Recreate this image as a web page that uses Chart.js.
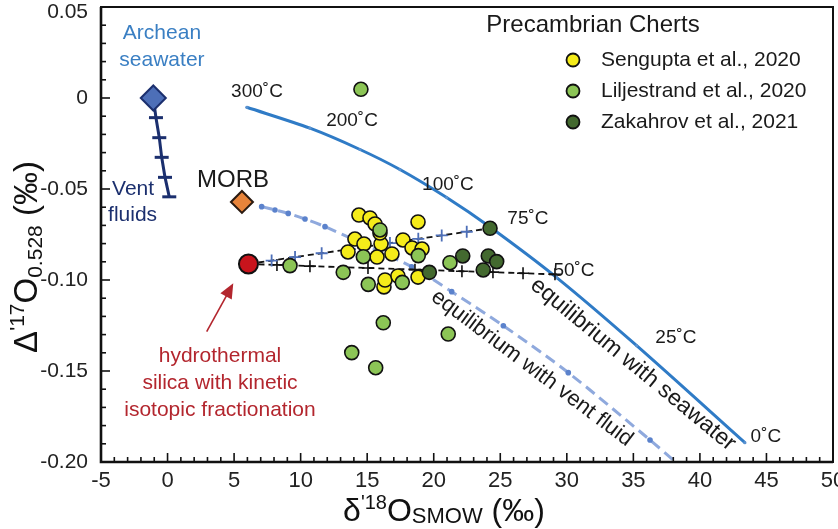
<!DOCTYPE html>
<html><head><meta charset="utf-8">
<script src="https://cdn.jsdelivr.net/npm/chart.js@4.4.1/dist/chart.umd.min.js"></script>
<style>html,body{margin:0;padding:0;background:#fff;overflow:hidden}#wrap{width:838px;height:529px;overflow:hidden;position:relative}canvas{display:block}</style>
</head><body><div id="wrap"><canvas id="c" width="838" height="529"></canvas></div>
<script>
// ---------- data ----------
const xTicks = [-5, 0, 5, 10, 15, 20, 25, 30, 35, 40, 45, 50];
const yTicks = [-0.20, -0.15, -0.10, -0.05, 0, 0.05];
const yTickLabels = ['-0.20', '-0.15', '-0.10', '-0.05', '0', '0.05'];

const senguptaX = [16.26, 14.38, 15.21, 15.59, 18.82, 14.08, 14.76, 16.04, 17.69, 18.37, 19.12, 13.56, 15.74, 16.86, 16.34, 17.31, 18.82, 15.96];
const senguptaY = [-0.1038, -0.0643, -0.0659, -0.0692, -0.0681, -0.0775, -0.0802, -0.0802, -0.0780, -0.0824, -0.0830, -0.0846, -0.0874, -0.0857, -0.1000, -0.0978, -0.0984, -0.0742];

const liljestrandX = [14.53, 9.20, 13.20, 14.71, 15.96, 18.84, 21.22, 15.08, 17.64, 16.21, 21.09, 13.84, 15.64];
const liljestrandY = [0.0048, -0.0921, -0.0958, -0.0872, -0.0725, -0.0866, -0.0905, -0.1024, -0.1013, -0.1235, -0.1297, -0.1399, -0.1482];

const zakharovX = [24.23, 22.18, 24.10, 24.73, 23.72, 19.67];
const zakharovY = [-0.0716, -0.0868, -0.0868, -0.0899, -0.0945, -0.0958];

// equilibrium with seawater (300 °C -> 0 °C)
const seawaterEqX = [5.95, 10.70, 14.46, 17.46, 20.97, 24.15, 29.24, 35.25, 43.38];
const seawaterEqY = [-0.0051, -0.0166, -0.0283, -0.0393, -0.0547, -0.0705, -0.0987, -0.1361, -0.1894];

// equilibrium with vent fluid
const ventEqX = [7.07, 8.07, 9.07, 10.33, 11.83, 18.34, 21.35, 25.23, 30.11, 36.25, 38.13];
const ventEqY = [-0.0597, -0.0615, -0.0634, -0.0665, -0.0707, -0.0927, -0.1064, -0.1251, -0.1509, -0.1879, -0.1998];

// mixing lines from kinetic hydrothermal silica
const mixUpperX = [6.08, 7.82, 9.58, 11.58, 13.71, 16.71, 18.84, 20.60, 22.48, 24.23];
const mixUpperY = [-0.0912, -0.0893, -0.0874, -0.0853, -0.0830, -0.0797, -0.0774, -0.0755, -0.0735, -0.0716];
const mixLowerX = [6.08, 8.22, 10.70, 15.06, 18.59, 22.12, 24.45, 26.71, 29.11];
const mixLowerY = [-0.0912, -0.0917, -0.0924, -0.0934, -0.0943, -0.0952, -0.0957, -0.0963, -0.0969];

// Archean seawater -> vent fluids
const ventFluidX = [-1.07, -0.87, -0.62, -0.44, -0.19, 0.13];
const ventFluidY = [0, -0.0108, -0.0218, -0.0326, -0.0436, -0.0543];

const seawaterPt = [-1.07, 0];
const morbPt = [5.59, -0.0571];
const kineticPt = [6.08, -0.0912];

// annotation texts (data coords)
const tempLabels = ['300˚C', '200˚C', '100˚C', '75˚C', '50˚C', '25˚C', '0˚C'];
const tempLabelX = [6.72, 13.86, 21.07, 27.08, 30.54, 38.20, 44.96];
const tempLabelY = [0.0033, -0.0126, -0.0478, -0.0665, -0.0951, -0.1319, -0.1863];

const legendTitle = 'Precambrian Cherts';
const legendOrder = ['Sengupta et al., 2020', 'Liljestrand et al., 2020', 'Zakahrov et al., 2021'];

// ---------- helpers ----------
const FONT = '"Liberation Sans", Arial, Helvetica, sans-serif';
const zip = (xs, ys) => xs.map((x, i) => ({x, y: ys[i]}));

const COL = {
  yellow: '#f5ec1a', light: '#8cc556', dark: '#43692f',
  sea: '#2f7bc6', vent: '#8fa9dd', ventDot: '#5b82cc',
  navy: '#1b2f6e', diamond: '#4d6fb8', morb: '#e8843a', red: '#c8141c',
  archText: '#3a7fc3', redText: '#b3262e', ink: '#1a1a1a'
};

const decor = {
  id: 'decor',
  afterDraw(chart) {
    const ctx = chart.ctx, a = chart.chartArea, sx = chart.scales.x, sy = chart.scales.y;
    const P = (x, y) => [sx.getPixelForValue(x), sy.getPixelForValue(y)];
    const text = (t, x, y, size, color, align, base) => {
      ctx.font = size + 'px ' + FONT; ctx.fillStyle = color;
      ctx.textAlign = align || 'center'; ctx.textBaseline = base || 'middle';
      ctx.fillText(t, x, y);
    };
    ctx.save();
    // inner ticks
    ctx.strokeStyle = '#111'; ctx.lineWidth = 1.6;
    for (let v = xTicks[0]; v <= xTicks[xTicks.length - 1]; v++) {
      const p = sx.getPixelForValue(v), L = (v % 5 === 0) ? 9 : 5;
      ctx.beginPath(); ctx.moveTo(p, a.bottom); ctx.lineTo(p, a.bottom - L); ctx.stroke();
    }
    for (let i = -20; i <= 5; i++) {
      const p = sy.getPixelForValue(i / 100), L = (i % 5 === 0) ? 9 : 5;
      ctx.beginPath(); ctx.moveTo(a.left, p); ctx.lineTo(a.left + L, p); ctx.stroke();
    }
    // tick labels
    xTicks.forEach(v => text(String(v), sx.getPixelForValue(v), a.bottom + 19, 22, '#222'));
    yTicks.forEach((v, i) => text(yTickLabels[i], a.left - 13, Math.max(sy.getPixelForValue(v), 12), 21, '#222', 'right'));
    // frame
    ctx.lineWidth = 2;
    ctx.strokeRect(a.left, a.top, a.right - a.left, a.bottom - a.top);
    ctx.lineWidth = 2.6;
    ctx.beginPath(); ctx.moveTo(a.left, a.top); ctx.lineTo(a.left, a.bottom); ctx.lineTo(a.right, a.bottom); ctx.stroke();

    // temperature labels
    tempLabels.forEach((t, i) => { const [x, y] = P(tempLabelX[i], tempLabelY[i]); text(t, x, y, 19, COL.ink); });
    // named points
    let q;
    q = P(-0.42, 0.0357); text('Archean', q[0], q[1], 21, COL.archText);
    q = P(-0.42, 0.0209); text('seawater', q[0], q[1], 21, COL.archText);
    q = P(-4.17, -0.0500); text('Vent', q[0], q[1], 21, COL.navy, 'left');
    q = P(-4.47, -0.0643); text('fluids', q[0], q[1], 21, COL.navy, 'left');
    q = P(4.92, -0.0451); text('MORB', q[0], q[1], 24, COL.ink);
    q = P(3.94, -0.1421); text('hydrothermal', q[0], q[1], 21, COL.redText);
    q = P(3.94, -0.1568); text('silica with kinetic', q[0], q[1], 21, COL.redText);
    q = P(3.94, -0.1714); text('isotopic fractionation', q[0], q[1], 21, COL.redText);
    // rotated curve labels
    const rot = (t, x, y, ang, size) => {
      const [px, py] = P(x, y);
      ctx.save(); ctx.translate(px, py); ctx.rotate(ang * Math.PI / 180);
      text(t, 0, 0, size, COL.ink); ctx.restore();
    };
    rot('equilibrium with seawater', 34.97, -0.1464, 39.5, 23);
    rot('equilibrium with vent fluid', 27.38, -0.1484, 36.9, 22);
    // arrow
    const [tx, ty] = P(2.94, -0.1284), [hx, hy] = P(4.94, -0.1018);
    const ang = Math.atan2(hy - ty, hx - tx);
    ctx.strokeStyle = COL.redText; ctx.fillStyle = COL.redText; ctx.lineWidth = 1.6;
    ctx.beginPath(); ctx.moveTo(tx, ty); ctx.lineTo(hx - 10 * Math.cos(ang), hy - 10 * Math.sin(ang)); ctx.stroke();
    ctx.beginPath(); ctx.moveTo(hx, hy);
    ctx.lineTo(hx - 15 * Math.cos(ang) + 6.5 * Math.sin(ang), hy - 15 * Math.sin(ang) - 6.5 * Math.cos(ang));
    ctx.lineTo(hx - 15 * Math.cos(ang) - 6.5 * Math.sin(ang), hy - 15 * Math.sin(ang) + 6.5 * Math.cos(ang));
    ctx.closePath(); ctx.fill();

    // legend
    const lx = a.right - 260, ly = a.top;
    text(legendTitle, a.right - 240, ly + 18, 24, COL.ink);
    legendOrder.forEach((name, i) => {
      const d = chart.data.datasets.find(ds => ds.label === name);
      const cy = ly + 53 + i * 31;
      ctx.beginPath(); ctx.arc(lx, cy, 6.5, 0, Math.PI * 2);
      ctx.fillStyle = d.backgroundColor; ctx.fill();
      ctx.lineWidth = 1.8; ctx.strokeStyle = '#111'; ctx.stroke();
      text(d.label, lx + 28, cy, 21, COL.ink, 'left');
    });

    // axis titles with sub/superscripts
    const rich = (parts, cx, cy) => {
      let w = 0;
      parts.forEach(p => { ctx.font = p.s + 'px ' + FONT; p.w = ctx.measureText(p.t).width; w += p.w; });
      let x = cx - w / 2;
      parts.forEach(p => { text(p.t, x, cy + (p.dy || 0), p.s, '#111', 'left', 'alphabetic'); x += p.w; });
    };
    rich([{t: 'δ', s: 32}, {t: "'18", s: 20, dy: -12}, {t: 'O', s: 32}, {t: 'SMOW', s: 22, dy: 2}, {t: ' (‰)', s: 32}],
         444, 521);
    ctx.save(); ctx.translate(37, 257); ctx.rotate(-Math.PI / 2);
    rich([{t: 'Δ', s: 33}, {t: "'17", s: 21, dy: -13}, {t: 'O', s: 33}, {t: '0.528', s: 21, dy: 5}, {t: ' (‰)', s: 33}], 0, 0);
    ctx.restore();
    ctx.restore();
  }
};

const pt = (label, xs, ys, color, order) => ({
  label, data: zip(xs, ys), backgroundColor: color, borderColor: '#111', borderWidth: 1.6,
  pointRadius: 7, showLine: false, order
});

new Chart(document.getElementById('c'), {
  type: 'scatter',
  data: {
    datasets: [
      // markers
      {label: 'Archean seawater', data: [{x: seawaterPt[0], y: seawaterPt[1]}], pointStyle: 'rectRot', pointRadius: 12.5,
       backgroundColor: COL.diamond, borderColor: COL.navy, borderWidth: 2, order: 1},
      {label: 'MORB', data: [{x: morbPt[0], y: morbPt[1]}], pointStyle: 'rectRot', pointRadius: 11,
       backgroundColor: COL.morb, borderColor: '#2a1a10', borderWidth: 2, order: 1},
      {label: 'kinetic silica', data: [{x: kineticPt[0], y: kineticPt[1]}], pointRadius: 9.5,
       backgroundColor: COL.red, borderColor: '#111', borderWidth: 2, order: 1},
      pt('Zakahrov et al., 2021', zakharovX, zakharovY, COL.dark, 2),
      pt('Liljestrand et al., 2020', liljestrandX, liljestrandY, COL.light, 3),
      pt('Sengupta et al., 2020', senguptaX, senguptaY, COL.yellow, 4),
      // lines
      {label: 'vent fluid path', data: zip(ventFluidX, ventFluidY), showLine: true, borderColor: COL.navy, borderWidth: 3,
       pointStyle: 'line', pointRadius: 7, pointBorderWidth: 3, pointBorderColor: COL.navy, order: 6},
      {label: 'mix upper', data: zip(mixUpperX, mixUpperY), showLine: true, borderColor: '#111', borderWidth: 1.8,
       borderDash: [6, 4], pointStyle: 'cross', pointRadius: mixUpperX.map((v, i) => (i === 0 || i === mixUpperX.length - 1) ? 0 : 6),
       pointBorderColor: COL.diamond, pointBorderWidth: 1.8, order: 7},
      {label: 'mix lower', data: zip(mixLowerX, mixLowerY), showLine: true, borderColor: '#111', borderWidth: 1.8,
       borderDash: [6, 4], pointStyle: 'cross', pointRadius: mixLowerX.map((v, i) => i === 0 ? 0 : 6),
       pointBorderColor: '#111', pointBorderWidth: 1.6, order: 7},
      {label: 'equilibrium with vent fluid', data: zip(ventEqX, ventEqY), showLine: true, borderColor: COL.vent, borderWidth: 3,
       borderDash: [11, 6], tension: 0.3, pointRadius: ventEqX.map((v, i) => i === ventEqX.length - 1 ? 0 : 2.8),
       pointBackgroundColor: COL.ventDot, pointBorderWidth: 0, order: 9},
      {label: 'equilibrium with seawater', data: zip(seawaterEqX, seawaterEqY), showLine: true, borderColor: COL.sea, borderWidth: 3,
       tension: 0.3, pointRadius: 1.6, pointBackgroundColor: '#5a92d0', pointBorderWidth: 0, order: 8}
    ]
  },
  options: {
    responsive: false, animation: false, devicePixelRatio: 1, events: [],
    layout: {autoPadding: false, padding: {top: 7, right: 5, left: 0, bottom: 0}},
    plugins: {legend: {display: false}, tooltip: {enabled: false}},
    scales: {
      x: {
        type: 'linear', min: -5, max: 50,
        afterBuildTicks: s => { s.ticks = xTicks.map(v => ({value: v})); },
        afterFit: s => { s.height = 67; },
        ticks: {display: false},
        grid: {display: false, drawTicks: false}, border: {display: false}
      },
      y: {
        type: 'linear', min: -0.2, max: 0.05,
        afterBuildTicks: s => { s.ticks = yTicks.map(v => ({value: v})); },
        afterFit: s => { s.width = 101; },
        ticks: {display: false},
        grid: {display: false, drawTicks: false}, border: {display: false}
      }
    }
  },
  plugins: [decor]
});
</script>
</body></html>
